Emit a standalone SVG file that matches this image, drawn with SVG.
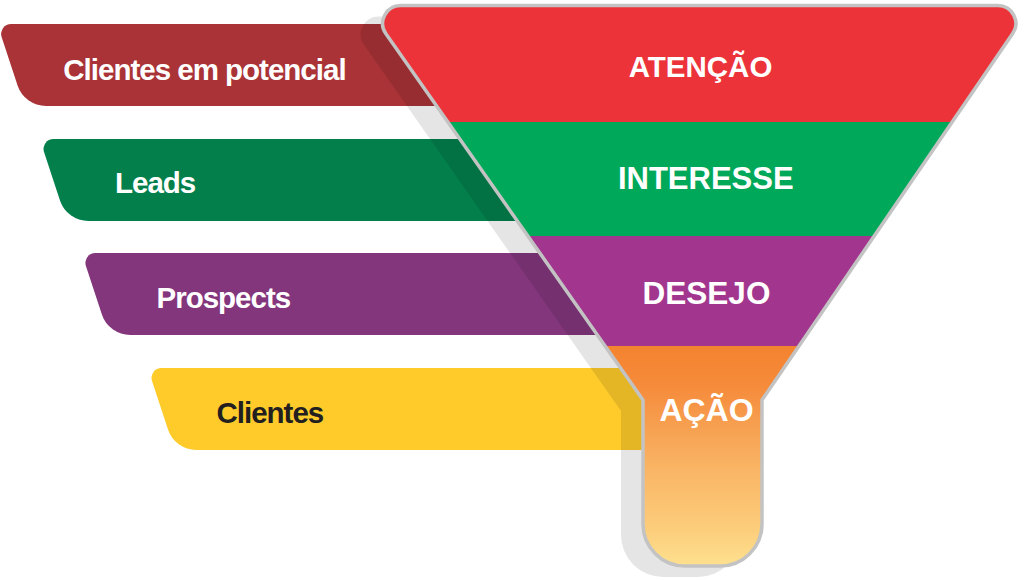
<svg xmlns="http://www.w3.org/2000/svg" width="1024" height="580" viewBox="0 0 1024 580">
  <style>
    .lbl { font-family: "Liberation Sans", Arial, sans-serif; font-weight: 700; font-size: 29.5px; letter-spacing: -1px; fill: #ffffff; }
    .stage { font-family: "Liberation Sans", Arial, sans-serif; font-weight: 700; fill: #ffffff; text-anchor: middle; }
  </style>
  <defs>
    <path id="bandShape" d="M13.8,0 H560 V82 H48.66 A30,30 0 0 1 20.29,61.49 L4.32,13.1 A10,10 0 0 1 13.8,0 Z"/>
    <path id="funnelShape" d="M400.6,5.5 H997.9 A18,18 0 0 1 1012.7,33.6 L762,400 V524 A42,42 0 0 1 720,566 H685 A42,42 0 0 1 643,524 V400 L385.9,33.8 A18,18 0 0 1 400.6,5.5 Z"/>
    <clipPath id="funnelClip">
      <use href="#funnelShape"/>
    </clipPath>
    <linearGradient id="acaoGrad" gradientUnits="userSpaceOnUse" x1="0" y1="346" x2="0" y2="566">
      <stop offset="0" stop-color="#f4832f"/>
      <stop offset="0.18" stop-color="#f58b3b"/>
      <stop offset="0.38" stop-color="#f7a152"/>
      <stop offset="0.56" stop-color="#f9b565"/>
      <stop offset="0.83" stop-color="#fccd7b"/>
      <stop offset="1" stop-color="#fee08f"/>
    </linearGradient>
  </defs>

  <g id="band-clientes-em-potencial">
    <use href="#bandShape" transform="translate(-2.7,24)" fill="#a93336"/>
    <text class="lbl" x="63.3" y="80">Clientes em potencial</text>
  </g>
  <g id="band-leads">
    <use href="#bandShape" transform="translate(39.7,139)" fill="#037f4c"/>
    <text class="lbl" x="115" y="192.7">Leads</text>
  </g>
  <g id="band-prospects">
    <use href="#bandShape" transform="translate(81.6,253)" fill="#83367c"/>
    <text class="lbl" x="156.5" y="308.3">Prospects</text>
  </g>
  <g id="band-clientes">
    <use href="#bandShape" transform="translate(147.7,368)" fill="#fecb2b"/>
    <text class="lbl" x="216.5" y="422.7" style="fill:#231f20">Clientes</text>
  </g>

  <g id="funnel-shadow">
    <use href="#funnelShape" transform="translate(-22,11)" fill="#000000" fill-opacity="0.1"/>
  </g>

  <g id="funnel">
    <g clip-path="url(#funnelClip)">
      <g id="stage-atencao-fill"><rect x="340" y="0" width="700" height="122" fill="#ec3339"/></g>
      <g id="stage-interesse-fill"><rect x="340" y="122" width="700" height="114" fill="#00a85a"/></g>
      <g id="stage-desejo-fill"><rect x="340" y="236" width="700" height="110" fill="#a2368e"/></g>
      <g id="stage-acao-fill"><rect x="340" y="346" width="700" height="230" fill="url(#acaoGrad)"/></g>
    </g>
    <use href="#funnelShape" fill="none" stroke="#c3c3c3" stroke-width="3.5"/>
  </g>

  <g id="stage-atencao"><text class="stage" x="700.5" y="77.3" font-size="29.5">ATENÇÃO</text></g>
  <g id="stage-interesse"><text class="stage" x="705.8" y="189.3" font-size="31">INTERESSE</text></g>
  <g id="stage-desejo"><text class="stage" x="706.5" y="303.5" font-size="31.5">DESEJO</text></g>
  <g id="stage-acao"><text class="stage" x="706.5" y="420.7" font-size="32">AÇÃO</text></g>

  <g id="connectors"/>
</svg>
